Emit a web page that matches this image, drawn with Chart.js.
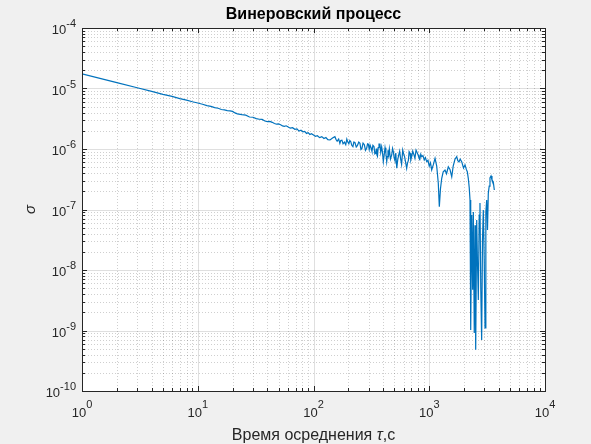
<!DOCTYPE html>
<html>
<head>
<meta charset="utf-8">
<script src="https://cdn.jsdelivr.net/npm/chart.js@4.4.1/dist/chart.umd.min.js"></script>
<style>
    html, body { margin: 0; padding: 0; background: #f0f0f0; }
    canvas { display: block; }
</style>
</head>
<body>
<canvas id="wiener" width="591" height="444"></canvas>
<script>
// ============================================================
// Allan deviation of a Wiener process (MATLAB-style loglog plot)
// ============================================================

// averaging time tau, s
const tauValues = [
    1, 2, 3, 4, 5, 6, 7, 8, 9, 10,
    11, 12, 13, 14, 15, 16, 17, 18, 19, 20,
    21, 22, 24, 26, 28, 30, 32, 34, 36, 38,
    40, 42, 44, 46, 48, 50, 52, 54, 56, 58,
    60, 63, 66, 69, 72, 75, 78, 81, 84, 87,
    90, 93, 96, 100, 104, 108, 113, 118, 123, 128,
    133, 139, 146, 153, 157, 160, 165, 169, 172, 176,
    180, 185, 190, 194, 198, 202, 206, 210, 214, 219,
    223, 228, 234, 240, 246, 252, 257, 262, 268, 275,
    281, 288, 293, 298, 303, 308, 314, 320, 326, 333,
    339, 345, 349, 352, 357, 362, 368, 375, 381, 388,
    394, 401, 408, 415, 422, 429, 434, 440, 446, 452,
    462, 474, 482, 490, 497, 505, 514, 524, 534, 545,
    555, 565, 577, 590, 600, 612, 625, 638, 648, 660,
    670, 682, 693, 705, 720, 735, 752, 769, 785, 800,
    815, 830, 845, 861, 882, 905, 927, 950, 975, 1000,
    1025, 1050, 1085, 1122, 1160, 1197, 1222, 1250, 1282, 1320,
    1368, 1410, 1461, 1510, 1564, 1610, 1668, 1727, 1765, 1807,
    1850, 1907, 1977, 2037, 2090, 2132, 2174, 2215, 2250, 2281,
    2328, 2372, 2404, 2449, 2485, 2519, 2570, 2613, 2654, 2702,
    2743, 2788, 2836, 2884, 2931, 2985, 3033, 3083, 3136, 3186,
    3237, 3296, 3347, 3418, 3483, 3574, 3648
];

// Allan deviation sigma
const sigmaValues = [
    1.74e-5, 1.25e-5, 1.03e-5, 8.95e-6, 8.02e-6, 7.40e-6, 6.82e-6, 6.43e-6, 6.04e-6, 5.75e-6,
    5.50e-6, 5.22e-6, 5.07e-6, 4.83e-6, 4.72e-6, 4.50e-6, 4.42e-6, 4.31e-6, 4.26e-6, 4.18e-6,
    3.95e-6, 3.80e-6, 3.69e-6, 3.62e-6, 3.38e-6, 3.35e-6, 3.18e-6, 3.10e-6, 3.08e-6, 2.90e-6,
    2.84e-6, 2.86e-6, 2.76e-6, 2.64e-6, 2.57e-6, 2.60e-6, 2.52e-6, 2.41e-6, 2.37e-6, 2.42e-6,
    2.33e-6, 2.21e-6, 2.25e-6, 2.12e-6, 2.15e-6, 1.98e-6, 2.04e-6, 1.92e-6, 1.96e-6, 1.81e-6,
    1.86e-6, 1.74e-6, 1.79e-6, 1.70e-6, 1.62e-6, 1.66e-6, 1.54e-6, 1.60e-6, 1.49e-6, 1.55e-6,
    1.43e-6, 1.41e-6, 1.52e-6, 1.60e-6, 1.42e-6, 1.35e-6, 1.46e-6, 1.24e-6, 1.38e-6, 1.40e-6,
    1.22e-6, 1.30e-6, 1.18e-6, 1.46e-6, 1.30e-6, 1.22e-6, 1.38e-6, 1.32e-6, 1.15e-6, 1.09e-6,
    1.30e-6, 1.28e-6, 1.08e-6, 1.15e-6, 1.30e-6, 1.24e-6, 9.8e-7, 1.02e-6, 1.25e-6, 1.18e-6,
    9.5e-7, 1.03e-6, 1.22e-6, 1.20e-6, 9.8e-7, 1.16e-6, 1.05e-6, 9.2e-7, 1.15e-6, 1.10e-6,
    8.3e-7, 8.5e-7, 1.02e-6, 8.2e-7, 7.6e-7, 1.05e-6, 1.20e-6, 1.20e-6, 8.8e-7, 1.09e-6,
    9.0e-7, 6.2e-7, 8.0e-7, 1.05e-6, 8.5e-7, 6.2e-7, 7.5e-7, 9.5e-7, 8.0e-7, 1.0e-6,
    6.8e-7, 7.96e-7, 1.02e-6, 9.0e-7, 7.2e-7, 6.5e-7, 8.6e-7, 4.8e-7, 6.6e-7, 8.0e-7,
    9.2e-7, 7.0e-7, 5.6e-7, 9.6e-7, 8.4e-7, 7.5e-7, 6.0e-7, 4.8e-7, 5.8e-7, 6.5e-7,
    9.0e-7, 8.5e-7, 6.6e-7, 7.46e-7, 9.2e-7, 8.2e-7, 7.0e-7, 9.6e-7, 8.8e-7, 8.0e-7,
    7.2e-7, 6.8e-7, 8.2e-7, 7.46e-7, 7.8e-7, 6.6e-7, 7.2e-7, 6.17e-7, 6.5e-7, 5.2e-7,
    5.9e-7, 4.50e-7, 5.5e-7, 7.02e-7, 5.2e-7, 2.71e-7, 1.11e-7, 2.2e-7, 3.28e-7, 4.2e-7,
    4.50e-7, 3.9e-7, 5.09e-7, 4.6e-7, 3.48e-7, 5.2e-7, 6.76e-7, 7.46e-7, 6.4e-7, 6.10e-7,
    6.8e-7, 6.17e-7, 4.85e-7, 5.45e-7, 4.6e-7, 4.21e-7, 3.28e-7, 2.3e-7, 1.44e-7, 1.02e-9,
    8.1e-8, 4.7e-9, 9.1e-8, 9.1e-10, 5.5e-8, 4.8e-10, 6.7e-8, 1.21e-8, 3.2e-9, 8.1e-8,
    1.28e-7, 4.7e-9, 7.0e-10, 3.1e-8, 9.8e-8, 1.46e-8, 1.1e-9, 9.1e-8, 1.44e-7, 4.6e-8,
    1.85e-7, 2.44e-7, 3.32e-7, 3.58e-7, 3.08e-7, 2.85e-7, 2.10e-7
];

// decade exponents used for tick labels (10^e)
const xTickExps = [0, 1, 2, 3, 4];
const yTickExps = [-10, -9, -8, -7, -6, -5, -4];
const minorSteps = [2, 3, 4, 5, 6, 7, 8, 9];

const chartTitle = "Винеровский процесс";
const xLabelParts = ["Время осреднения ", "τ", ",с"];
const yLabel = "σ";

const LINE_BLUE = "#0072BD";
const AXIS_COLOR = "#262626";
const FONT = "'Liberation Sans', Arial, Helvetica, sans-serif";

// major + minor grid positions for a log axis
function logGrid(exps) {
    const out = [];
    for (let i = 0; i < exps.length; i++) {
        const base = Math.pow(10, exps[i]);
        out.push({ v: base, major: true });
        if (i < exps.length - 1) {
            for (const m of minorSteps) out.push({ v: m * base, major: false });
        }
    }
    return out;
}

function snap(p) { return Math.round(p) + 0.5; }

const matlabAxes = {
    id: "matlabAxes",
    beforeDraw(chart) {
        const { ctx, chartArea: a } = chart;
        ctx.save();
        ctx.fillStyle = "#f0f0f0";
        ctx.fillRect(0, 0, chart.width, chart.height);
        ctx.fillStyle = "#ffffff";
        ctx.fillRect(a.left, a.top, a.right - a.left, a.bottom - a.top);
        ctx.restore();
    },
    beforeDatasetsDraw(chart) {
        const { ctx, chartArea: a, scales } = chart;
        const xs = logGrid(xTickExps);
        const ys = logGrid(yTickExps);
        ctx.save();
        ctx.lineWidth = 1;
        // minor grid (dotted)
        ctx.strokeStyle = "rgba(38,38,38,0.22)";
        ctx.setLineDash([1, 2]);
        ctx.beginPath();
        for (const g of xs) {
            if (g.major) continue;
            const px = snap(scales.x.getPixelForValue(g.v));
            ctx.moveTo(px, a.top); ctx.lineTo(px, a.bottom);
        }
        for (const g of ys) {
            if (g.major) continue;
            const py = snap(scales.y.getPixelForValue(g.v));
            ctx.moveTo(a.left, py); ctx.lineTo(a.right, py);
        }
        ctx.stroke();
        // major grid (solid)
        ctx.setLineDash([]);
        ctx.strokeStyle = "rgba(38,38,38,0.15)";
        ctx.beginPath();
        for (const g of xs) {
            if (!g.major) continue;
            const px = snap(scales.x.getPixelForValue(g.v));
            ctx.moveTo(px, a.top); ctx.lineTo(px, a.bottom);
        }
        for (const g of ys) {
            if (!g.major) continue;
            const py = snap(scales.y.getPixelForValue(g.v));
            ctx.moveTo(a.left, py); ctx.lineTo(a.right, py);
        }
        ctx.stroke();
        ctx.restore();
    },
    afterDatasetsDraw(chart) {
        const { ctx, chartArea: a, scales } = chart;
        ctx.save();
        ctx.strokeStyle = AXIS_COLOR;
        ctx.lineWidth = 1;

        // tick marks, inward on all four sides
        ctx.beginPath();
        for (const g of logGrid(xTickExps)) {
            const px = snap(scales.x.getPixelForValue(g.v));
            const len = g.major ? 5 : 3;
            ctx.moveTo(px, a.bottom); ctx.lineTo(px, a.bottom - len);
            ctx.moveTo(px, a.top); ctx.lineTo(px, a.top + len);
        }
        for (const g of logGrid(yTickExps)) {
            const py = snap(scales.y.getPixelForValue(g.v));
            const len = g.major ? 5 : 3;
            ctx.moveTo(a.left, py); ctx.lineTo(a.left + len, py);
            ctx.moveTo(a.right, py); ctx.lineTo(a.right - len, py);
        }
        ctx.stroke();

        // box
        ctx.strokeRect(snap(a.left), snap(a.top), Math.round(a.right - a.left), Math.round(a.bottom - a.top));

        // tick labels 10^e
        ctx.fillStyle = AXIS_COLOR;
        ctx.textBaseline = "alphabetic";
        ctx.textAlign = "left";
        const baseFont = "13px " + FONT;
        const expFont = "11px " + FONT;
        for (const e of xTickExps) {
            const px = scales.x.getPixelForValue(Math.pow(10, e));
            ctx.font = baseFont;
            const wB = ctx.measureText("10").width;
            ctx.font = expFont;
            const wE = ctx.measureText(String(e)).width;
            const x0 = px - (wB + wE) / 2;
            ctx.font = baseFont;
            ctx.fillText("10", x0, a.bottom + 26);
            ctx.font = expFont;
            ctx.fillText(String(e), x0 + wB, a.bottom + 17);
        }
        for (const e of yTickExps) {
            const py = scales.y.getPixelForValue(Math.pow(10, e));
            const label = e < 0 ? "-" + Math.abs(e) : String(e);
            ctx.font = expFont;
            const wE = ctx.measureText(label).width;
            ctx.font = baseFont;
            const wB = ctx.measureText("10").width;
            const xEnd = a.left - 6;
            ctx.fillText("10", xEnd - wE - wB, py + 6);
            ctx.font = expFont;
            ctx.fillText(label, xEnd - wE, py - 1);
        }

        // title
        ctx.fillStyle = "#000000";
        ctx.textAlign = "center";
        ctx.font = "bold 16px " + FONT;
        ctx.fillText(chartTitle, (a.left + a.right) / 2, 19);

        // x axis label with italic tau
        ctx.fillStyle = AXIS_COLOR;
        ctx.textAlign = "left";
        const fonts = ["16px " + FONT, "italic 16px " + FONT, "16px " + FONT];
        let total = 0;
        const widths = xLabelParts.map((t, i) => {
            ctx.font = fonts[i];
            const w = ctx.measureText(t).width;
            total += w;
            return w;
        });
        let x = (a.left + a.right) / 2 - total / 2;
        xLabelParts.forEach((t, i) => {
            ctx.font = fonts[i];
            ctx.fillText(t, x, 440);
            x += widths[i];
        });

        // y axis label
        ctx.translate(31, (a.top + a.bottom) / 2);
        ctx.rotate(-Math.PI / 2);
        ctx.textAlign = "center";
        ctx.textBaseline = "middle";
        ctx.font = "italic 15px " + FONT;
        ctx.fillText(yLabel, 0, 0);
        ctx.restore();
    }
};

const points = tauValues.map((t, i) => ({ x: t, y: sigmaValues[i] }));

new Chart(document.getElementById("wiener").getContext("2d"), {
    type: "line",
    data: {
        datasets: [{
            data: points,
            borderColor: LINE_BLUE,
            borderWidth: 1.2,
            pointRadius: 0,
            fill: false,
            tension: 0
        }]
    },
    options: {
        responsive: false,
        animation: false,
        devicePixelRatio: 1,
        layout: { padding: { left: 0, top: 28, right: 46, bottom: 0 } },
        plugins: {
            legend: { display: false },
            tooltip: { enabled: false },
            title: { display: false }
        },
        scales: {
            x: {
                type: "logarithmic",
                min: 1,
                max: 1e4,
                ticks: { display: false },
                grid: { display: false },
                border: { display: false },
                afterFit(scale) { scale.height = 53; }
            },
            y: {
                type: "logarithmic",
                min: 1e-10,
                max: 1e-4,
                ticks: { display: false },
                grid: { display: false },
                border: { display: false },
                afterFit(scale) { scale.width = 82; }
            }
        }
    },
    plugins: [matlabAxes]
});
</script>
</body>
</html>
